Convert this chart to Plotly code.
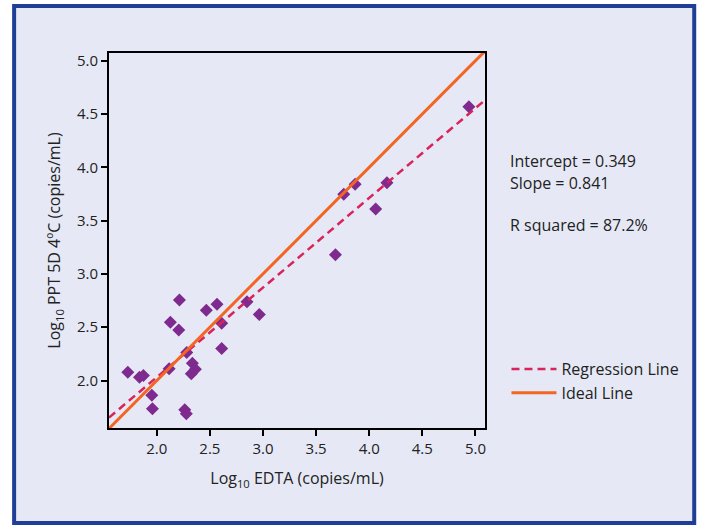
import plotly.graph_objects as go

edta = [1.727, 1.837, 1.874, 1.953, 1.959, 2.116, 2.128, 2.207, 2.213, 2.263, 2.278,
        2.282, 2.335, 2.325, 2.363, 2.466, 2.567, 2.611, 2.611, 2.849, 2.965,
        3.682, 3.760, 3.867, 4.061, 4.167, 4.938]
ppt = [2.079, 2.032, 2.047, 1.863, 1.735, 2.110, 2.547, 2.475, 2.756, 1.725, 1.688,
       2.262, 2.163, 2.063, 2.107, 2.660, 2.716, 2.538, 2.300, 2.738, 2.619,
       3.181, 3.747, 3.841, 3.609, 3.856, 4.568]
intercept = 0.349
slope = 0.841
line_x = [1.55, 5.09]
reg_y = [intercept + slope * v for v in line_x]
ideal_y = list(line_x)

BG = "#e6e9f5"
FONT = "Open Sans"

fig = go.Figure()
fig.add_trace(go.Scatter(x=edta, y=ppt, mode="markers", showlegend=False,
                         marker=dict(symbol="diamond", size=10, color="#7e2a8e")))
fig.add_trace(go.Scatter(x=line_x, y=reg_y, mode="lines", name="Regression Line",
                         line=dict(color="#d8245a", width=2.5, dash="8px,5px")))
fig.add_trace(go.Scatter(x=line_x, y=ideal_y, mode="lines", name="Ideal Line",
                         line=dict(color="#f26522", width=3)))

W, H = 703, 525
L, R, T, B = 109, 485.5, 53, 428

def px(x):
    return (x - L) / (R - L)

def py(y):
    return (B - y) / (B - T)

fig.add_shape(type="rect", xref="paper", yref="paper", layer="below",
              x0=px(14), x1=px(695), y0=py(523), y1=py(6),
              fillcolor=BG, line=dict(color="#1f3f96", width=4))

axis_common = dict(showgrid=False, zeroline=False, showline=True, linecolor="black",
                   linewidth=2, mirror=True, ticks="outside", ticklen=6, tickwidth=2,
                   tickcolor="black", tickfont=dict(size=15, color="#222", family=FONT),
                   dtick=0.5, tickformat=".1f")

fig.update_layout(
    width=W, height=H,
    margin=dict(l=L, r=W - R, t=T, b=H - B),
    paper_bgcolor="white", plot_bgcolor=BG,
    font=dict(family=FONT, color="#222"),
    xaxis=dict(range=[1.55, 5.09], tick0=2.0,
               title=dict(text="Log<sub>10</sub> EDTA (copies/mL)", font=dict(size=16), standoff=16),
               **axis_common),
    yaxis=dict(range=[1.555, 5.072], tick0=2.0,
               title=dict(text="Log<sub>10</sub> PPT 5D 4ºC (copies/mL)", font=dict(size=16), standoff=12),
               **axis_common),
    legend=dict(x=px(507), y=py(352), xanchor="left", yanchor="top",
                bgcolor="rgba(0,0,0,0)", font=dict(size=16, color="#222"),
                tracegroupgap=0, itemwidth=45),
    showlegend=True,
)

for txt, yy in [("Intercept = 0.349", 161), ("Slope = 0.841", 183), ("R squared = 87.2%", 225)]:
    fig.add_annotation(text=txt, xref="paper", yref="paper", x=px(509), y=py(yy),
                       xanchor="left", yanchor="middle", showarrow=False,
                       font=dict(size=16, color="#222", family=FONT))

fig.write_html("out.html", config={"displayModeBar": False},
               post_script="document.body.style.margin='0';")
